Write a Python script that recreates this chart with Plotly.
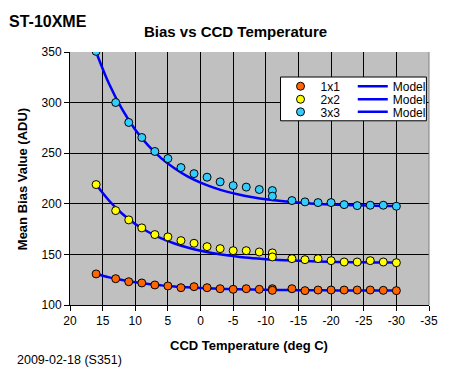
import plotly.graph_objects as go

# Measured temperatures (deg C)
temps = [16, 13, 11, 9, 7, 5, 3, 1, -1, -3, -5, -7, -9, -11, -11,
         -14, -16, -18, -20, -22, -24, -26, -28, -30]
bias_1x1 = [130.7, 126.0, 123.0, 121.8, 119.8, 118.8, 117.1, 118.1, 117.1, 116.1,
            115.5, 116.1, 115.5, 116.1, 114.5, 116.1, 114.2, 114.8, 114.8, 114.8,
            114.8, 114.8, 114.5, 114.2]
bias_2x2 = [219.0, 193.3, 184.1, 176.2, 169.6, 167.3, 163.6, 161.0, 157.7, 155.7,
            153.7, 153.7, 152.4, 151.5, 147.5, 145.8, 144.8, 145.8, 143.8, 142.5,
            142.5, 143.8, 142.5, 141.8]
bias_3x3 = [350.6, 300.1, 280.4, 265.5, 251.7, 244.7, 235.8, 229.8, 226.3, 221.7,
            218.0, 216.5, 214.1, 213.1, 207.5, 203.2, 201.9, 201.2, 201.2, 199.2,
            198.2, 198.6, 198.6, 197.6]

# Model curves
model_temps = [16, 14, 12, 10, 8, 6, 4, 2, 0, -2, -4, -6, -8, -10, -12, -14,
               -16, -18, -20, -22, -24, -26, -28, -30]
model_1x1 = [130.7, 127.3, 124.6, 122.4, 120.7, 119.4, 118.3, 117.5, 116.8, 116.2,
             115.8, 115.5, 115.2, 115.0, 114.8, 114.7, 114.6, 114.5, 114.4, 114.4,
             114.4, 114.3, 114.3, 114.3]
model_2x2 = [219.0, 203.0, 190.2, 180.1, 172.1, 165.8, 160.8, 156.8, 153.6, 151.1,
             149.1, 147.5, 146.3, 145.3, 144.5, 143.9, 143.4, 143.0, 142.7, 142.4,
             142.3, 142.1, 142.0, 141.9]
model_3x3 = [350.0, 318.3, 293.2, 273.2, 257.4, 244.9, 235.1, 227.1, 220.9, 216.0,
             212.0, 208.9, 206.5, 204.5, 203.0, 201.7, 200.7, 199.9, 199.3, 198.8,
             198.5, 198.2, 197.9, 197.8]

series_names = ["1x1", "2x2", "3x3"]
series_colors = ["#ff6600", "#ffff00", "#33ccff"]

x_ticks = [20, 15, 10, 5, 0, -5, -10, -15, -20, -25, -30, -35]
y_ticks = [100, 150, 200, 250, 300, 350]

FONT = "Arial, Liberation Sans, sans-serif"
W, H = 469, 369
L, R, T, B = 70, 429.3, 52.3, 305

def px_x(p):
    return (p - L) / (R - L)

def px_y(p):
    return (B - p) / (B - T)

fig = go.Figure()

row_centers = [85.7, 98.7, 111.3]
ROW_OFF = 13.7
legend_layouts = {}

# model lines first (drawn beneath markers)
for i, ys in enumerate([model_1x1, model_2x2, model_3x3]):
    lg = "legend%d" % (4 + i)
    fig.add_trace(go.Scatter(x=model_temps, y=ys, mode="lines", name="Model",
                             line=dict(color="#0000ff", width=2.5, shape="spline"),
                             legend=lg))
    legend_layouts[lg] = dict(x=px_x(353), y=px_y(row_centers[i] - ROW_OFF))

for i, (name, ys, col) in enumerate(zip(series_names, [bias_1x1, bias_2x2, bias_3x3],
                                        series_colors)):
    lg = "legend" if i == 0 else "legend%d" % (1 + i)
    fig.add_trace(go.Scatter(x=temps, y=ys, mode="markers", name=name,
                             marker=dict(color=col, size=8, symbol="circle",
                                         line=dict(color="black", width=1)),
                             legend=lg))
    legend_layouts[lg] = dict(x=px_x(280.7), y=px_y(row_centers[i] - ROW_OFF))

for lg, pos in legend_layouts.items():
    fig.update_layout({lg: dict(x=pos["x"], y=pos["y"], xanchor="left", yanchor="top",
                                bgcolor="rgba(0,0,0,0)", borderwidth=0,
                                font=dict(family=FONT, size=12, color="black"),
                                itemwidth=30)})

fig.update_layout(
    width=W, height=H,
    margin=dict(l=L, r=W - R, t=T, b=H - B, pad=0),
    paper_bgcolor="white",
    plot_bgcolor="#c0c0c0",
    font=dict(family=FONT, size=12, color="black"),
    showlegend=True,
    xaxis=dict(range=[20, -35], tickvals=x_ticks, ticktext=[str(v) for v in x_ticks],
               showgrid=True, gridcolor="black", gridwidth=1,
               showline=True, linecolor="black", linewidth=1,
               ticks="outside", ticklen=5, tickcolor="black",
               zeroline=False, mirror=False,
               tickfont=dict(family=FONT, size=12, color="black")),
    yaxis=dict(range=[100, 350], tickvals=y_ticks,
               showgrid=True, gridcolor="black", gridwidth=1,
               showline=True, linecolor="black", linewidth=1,
               ticks="outside", ticklen=5, tickcolor="black",
               zeroline=False,
               tickfont=dict(family=FONT, size=12, color="black")),
    shapes=[
        dict(type="rect", xref="paper", yref="paper",
             x0=px_x(280.7), x1=px_x(426.7), y0=px_y(121), y1=px_y(77.3),
             fillcolor="white", line=dict(color="black", width=1), layer="above"),
        dict(type="line", xref="paper", yref="paper", x0=1, x1=1, y0=0, y1=1,
             line=dict(color="#808080", width=1), layer="above"),
    ],
    annotations=[
        dict(text="<b>ST-10XME</b>", x=px_x(7), y=px_y(22), xref="paper", yref="paper",
             xanchor="left", yanchor="middle", showarrow=False,
             font=dict(family=FONT, size=16, color="black")),
        dict(text="<b>Bias vs CCD Temperature</b>", x=px_x(236), y=px_y(32),
             xref="paper", yref="paper", xanchor="center", yanchor="middle",
             showarrow=False, font=dict(family=FONT, size=15, color="black")),
        dict(text="<b>CCD Temperature (deg C)</b>", x=px_x(249), y=px_y(345),
             xref="paper", yref="paper", xanchor="center", yanchor="middle",
             showarrow=False, font=dict(family=FONT, size=13, color="black")),
        dict(text="<b>Mean Bias Value (ADU)</b>", x=px_x(23.3), y=px_y(179),
             xref="paper", yref="paper", xanchor="center", yanchor="middle",
             textangle=-90, showarrow=False,
             font=dict(family=FONT, size=13, color="black")),
        dict(text="2009-02-18 (S351)", x=px_x(15), y=px_y(360),
             xref="paper", yref="paper", xanchor="left", yanchor="middle",
             showarrow=False, font=dict(family=FONT, size=12.5, color="black")),
    ],
)

fig.write_html("out.html", config={"displayModeBar": False},
               post_script="document.body.style.margin='0';")
